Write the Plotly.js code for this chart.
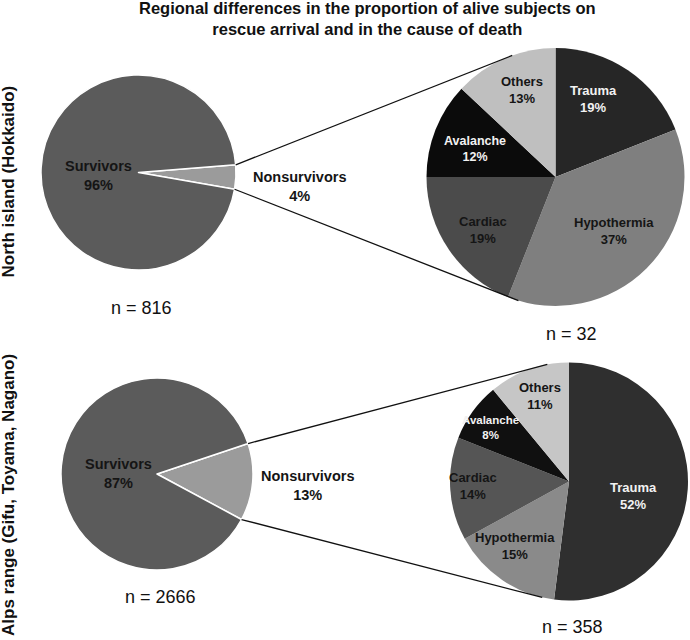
<!DOCTYPE html>
<html><head><meta charset="utf-8">
<script src="https://cdn.plot.ly/plotly-3.0.1.min.js"></script>
<style>html,body{margin:0;padding:0;background:#fff}</style>
</head><body><div id="chart" style="width:690px;height:640px"></div>
<script>
// ---- data ----
const chartTitle = 'Regional differences in the proportion of alive subjects on<br>rescue arrival and in the cause of death';
const regionLabels = ['North island (Hokkaido)', 'Alps range (Gifu, Toyama, Nagano)'];
const outcomeLabels = ['Nonsurvivors', 'Survivors'];
const hokkaidoOutcome = [4, 96];
const alpsOutcome = [13, 87];
const causeLabels = ['Trauma', 'Hypothermia', 'Cardiac', 'Avalanche', 'Others'];
const hokkaidoCause = [19, 37, 19, 12, 13];
const alpsCause = [52, 15, 14, 8, 11];
const sampleSizes = {hokkaidoAll: 816, hokkaidoDead: 32, alpsAll: 2666, alpsDead: 358};

// ---- style / geometry (pixels) ----
const W = 690, H = 640;
const geo = {
  tl: {cx: 138.5, cy: 172.5, r: 97.5, rot: 85.5},
  tr: {cx: 555.5, cy: 177, r: 129},
  bl: {cx: 157, cy: 474, r: 96, rot: 71.5},
  br: {cx: 569, cy: 481.5, r: 119}
};
const connectorEnd = {tr: [340.4, 196.7], br: [349.5, 193]};
// label anchor offsets from each pie centre (dx, dy in px), in slice order
const labelOffsets = {
  tl: [[161, 13.5], [-40, 2.5]],
  tr: [[37.5, -78], [58.5, 54], [-72.5, 53], [-80.5, -28], [-33.5, -87]],
  bl: [[150, 11], [-39, -1]],
  br: [[64, 14.5], [-54, 64.5], [-96, 4.5], [-79, -54.5], [-29, -85.5]]
};
const outcomeColors = ['#9b9b9b', '#5b5b5b'];
const causeColorsTop = ['#262626', '#7f7f7f', '#4b4b4b', '#0b0b0b', '#bfbfbf'];
const causeColorsBot = ['#2f2f2f', '#8a8a8a', '#555555', '#101010', '#c6c6c6'];
const causeTextColors = ['#f2f2f2', '#151515', '#151515', '#f2f2f2', '#151515'];
const causeFontSizesTop = [13, 13, 13, 12.5, 13];
const causeFontSizesBot = [13, 13, 13, 11.5, 13];
const FONT = 'Liberation Sans, Arial, sans-serif';

function dom(g) {
  return {x: [(g.cx - g.r) / W, (g.cx + g.r) / W], y: [1 - (g.cy + g.r) / H, 1 - (g.cy - g.r) / H]};
}
function pt(g, a) {
  const rad = a * Math.PI / 180;
  return [(g.cx + g.r * Math.sin(rad)) / W, 1 - (g.cy - g.r * Math.cos(rad)) / H];
}

function outcomePie(values, g) {
  return {
    type: 'pie', labels: outcomeLabels, values: values, sort: false, direction: 'clockwise',
    rotation: g.rot, domain: dom(g),
    marker: {colors: outcomeColors, line: {color: '#ffffff', width: 1.5}},
    textinfo: 'none', hoverinfo: 'label+percent', showlegend: false
  };
}
function causePie(values, g, colors) {
  return {
    type: 'pie', labels: causeLabels, values: values, sort: false, direction: 'clockwise',
    rotation: 0, domain: dom(g),
    marker: {colors: colors, line: {width: 0}},
    textinfo: 'none', hoverinfo: 'label+percent', showlegend: false
  };
}

const data = [
  outcomePie(hokkaidoOutcome, geo.tl),
  causePie(hokkaidoCause, geo.tr, causeColorsTop),
  outcomePie(alpsOutcome, geo.bl),
  causePie(alpsCause, geo.br, causeColorsBot)
];

// connectors: from the nonsurvivor slice edges to the cause-of-death pie
function connectors(left, right, values, ends) {
  const frac = values[0] / values.reduce((a, b) => a + b, 0);
  const a0 = left.rot, a1 = left.rot + frac * 360;
  const s0 = pt(left, a0), s1 = pt(left, a1);
  const e0 = pt(right, ends[0]), e1 = pt(right, ends[1]);
  const line = {color: '#111111', width: 1.3};
  return [
    {type: 'line', xref: 'paper', yref: 'paper', x0: s0[0], y0: s0[1], x1: e0[0], y1: e0[1], line: line},
    {type: 'line', xref: 'paper', yref: 'paper', x0: s1[0], y0: s1[1], x1: e1[0], y1: e1[1], line: line}
  ];
}
const shapes = connectors(geo.tl, geo.tr, hokkaidoOutcome, connectorEnd.tr)
  .concat(connectors(geo.bl, geo.br, alpsOutcome, connectorEnd.br));

// slice labels: label + percentage computed from the values
function sliceLabels(labels, values, g, offsets, colors, sizes) {
  const total = values.reduce((a, b) => a + b, 0);
  return labels.map((lab, i) => ({
    text: lab + '<br>' + Math.round(values[i] / total * 100) + '%',
    x: (g.cx + offsets[i][0]) / W, y: 1 - (g.cy + offsets[i][1]) / H,
    xref: 'paper', yref: 'paper', showarrow: false, xanchor: 'center', yanchor: 'middle',
    align: 'center',
    font: {family: FONT, size: sizes[i], weight: 'bold', color: colors[i]}
  }));
}
function nLabel(n, x, y) {
  return {text: 'n = ' + n, x: x / W, y: 1 - y / H, xref: 'paper', yref: 'paper',
    showarrow: false, xanchor: 'center', yanchor: 'middle',
    font: {family: FONT, size: 18, color: '#111111'}};
}
function regionLabel(t, y) {
  return {text: t, x: 8 / W, y: 1 - y / H, xref: 'paper', yref: 'paper', textangle: -90,
    showarrow: false, xanchor: 'center', yanchor: 'middle',
    font: {family: FONT, size: 17, weight: 'bold', color: '#111111'}};
}
const dark = '#151515';
const annotations = [].concat(
  sliceLabels(outcomeLabels, hokkaidoOutcome, geo.tl, labelOffsets.tl, [dark, dark], [14.5, 14.5]),
  sliceLabels(causeLabels, hokkaidoCause, geo.tr, labelOffsets.tr, causeTextColors, causeFontSizesTop),
  sliceLabels(outcomeLabels, alpsOutcome, geo.bl, labelOffsets.bl, [dark, dark], [14.5, 14.5]),
  sliceLabels(causeLabels, alpsCause, geo.br, labelOffsets.br, causeTextColors, causeFontSizesBot),
  [
    nLabel(sampleSizes.hokkaidoAll, 141, 308),
    nLabel(sampleSizes.hokkaidoDead, 571, 334),
    nLabel(sampleSizes.alpsAll, 160, 597),
    nLabel(sampleSizes.alpsDead, 572.5, 627),
    regionLabel(regionLabels[0], 181.5),
    regionLabel(regionLabels[1], 495),
    {text: chartTitle, x: 367 / W, y: 1 - 19 / H, xref: 'paper', yref: 'paper',
      showarrow: false, xanchor: 'center', yanchor: 'middle', align: 'center',
      font: {family: FONT, size: 16.5, weight: 'bold', color: '#111111'}}
  ]
);

const layout = {
  width: W, height: H, margin: {l: 0, r: 0, t: 0, b: 0},
  paper_bgcolor: '#ffffff', plot_bgcolor: '#ffffff',
  shapes: shapes, annotations: annotations, showlegend: false
};
Plotly.newPlot('chart', data, layout, {displayModeBar: false, staticPlot: true});
</script></body></html>
